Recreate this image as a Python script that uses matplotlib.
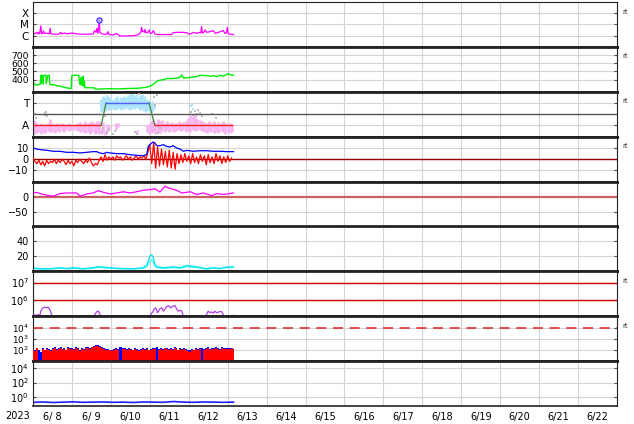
import numpy as np
import matplotlib.pyplot as plt
from matplotlib.ticker import NullLocator

# time axis in days since 2023-06-08 00:00
day_labels = ['6/ 8', '6/ 9', '6/10', '6/11', '6/12', '6/13', '6/14', '6/15',
              '6/16', '6/17', '6/18', '6/19', '6/20', '6/21', '6/22']

# panel 1: flare class (C=0, M=1, X=2)
xray_t = [0.01, 0.05, 0.09, 0.12, 0.14, 0.17, 0.20, 0.22, 0.25, 0.27, 0.29, 0.35, 0.42, 0.44,
          0.46, 0.57, 0.65, 0.72, 0.74, 0.82, 0.86, 0.95, 1.02, 1.08, 1.21, 1.38, 1.55, 1.58,
          1.62, 1.64, 1.67, 1.70, 1.72, 1.76, 1.81, 1.89, 1.93, 1.95, 2.06, 2.15, 2.23, 2.41,
          2.58, 2.66, 2.71, 2.77, 2.79, 2.81, 2.83, 2.86, 2.88, 2.90, 2.94, 2.99, 3.01, 3.05,
          3.09, 3.13, 3.18, 3.35, 3.56, 3.60, 3.69, 3.82, 3.95, 3.99, 4.08, 4.12, 4.20, 4.29,
          4.31, 4.33, 4.35, 4.38, 4.42, 4.46, 4.55, 4.63, 4.68, 4.76, 4.82, 4.89, 4.93, 4.97,
          4.99, 5.01, 5.03, 5.15]
xray_v = [0.16, 0.18, 0.30, 0.16, 0.30, 0.16, 0.87, 0.18, 0.21, 0.42, 0.21, 0.21, 0.18, 0.66,
          0.16, 0.13, 0.13, 0.30, 0.16, 0.24, 0.16, 0.21, 0.24, 0.18, 0.13, 0.13, 0.16, 0.45,
          0.30, 0.66, 0.21, 1.34, 0.30, 0.18, 0.13, 0.13, 0.36, 0.10, 0.07, 0.18, -0.02, -0.02,
          -0.01, 0.05, 0.10, 0.30, 0.75, 0.36, 0.40, 0.30, 0.57, 0.27, 0.27, 0.51, 0.21, 0.21,
          0.45, 0.16, 0.10, 0.10, 0.10, 0.27, 0.30, 0.30, 0.27, 0.13, 0.21, 0.30, 0.21, 0.30,
          0.24, 0.81, 0.24, 0.27, 0.51, 0.30, 0.36, 0.45, 0.21, 0.30, 0.36, 0.45, 0.21, 0.24,
          0.75, 0.24, 0.16, 0.10]
flare_t = [1.70]
flare_v = [1.40]

# panel 2: solar wind speed
vsw_t = [0.01, 0.03, 0.05, 0.08, 0.12, 0.17, 0.19, 0.20, 0.21, 0.22, 0.23, 0.26, 0.27, 0.33,
         0.34, 0.38, 0.42, 0.43, 0.48, 0.52, 0.60, 0.70, 0.80, 0.90, 0.98, 1.00, 1.05, 1.17,
         1.19, 1.21, 1.23, 1.24, 1.26, 1.27, 1.29, 1.30, 1.32, 1.33, 1.35, 1.45, 1.58, 1.60,
         1.80, 2.00, 2.20, 2.40, 2.60, 2.75, 2.90, 3.00, 3.09, 3.18, 3.26, 3.35, 3.43, 3.60,
         3.77, 3.82, 3.86, 3.95, 4.12, 4.20, 4.29, 4.46, 4.55, 4.63, 4.72, 4.80, 4.89, 4.97,
         5.01, 5.06, 5.15]
vsw_v = [375, 350, 335, 338, 332, 345, 345, 452, 350, 452, 452, 345, 452, 452,
         350, 452, 452, 340, 335, 340, 325, 318, 305, 295, 290, 452, 452, 452,
         400, 340, 420, 335, 430, 330, 440, 320, 380, 300, 300, 300, 298, 282,
         286, 288, 285, 290, 292, 296, 305, 318, 340, 380, 392, 398, 412, 412,
         425, 458, 420, 420, 432, 436, 452, 448, 440, 448, 436, 452, 444, 460,
         470, 460, 452]

# panel 3: class A / T
cls_t = [0.0, 1.75, 1.875, 2.98, 3.13, 5.12]
cls_v = [0, 0, 1, 1, 0, 0]
cls_colors = ['#ff2020', '#4c8c4c', '#4f5fff', '#4c8c4c', '#ff2020']

pink_t = [0.02, 0.08, 0.14, 0.20, 0.26, 0.32, 0.38, 0.44, 0.50, 0.56, 0.62, 0.68, 0.74, 0.80,
          0.86, 0.92, 0.98, 1.04, 1.10, 1.16, 1.22, 1.28, 1.34, 1.40, 1.46, 1.52, 1.58, 1.64,
          1.70,
          1.76, 1.80, 1.85, 1.90, 1.95, 2.12, 2.18, 2.66, 2.92, 2.97,
          3.02, 3.08, 3.14, 3.20, 3.26, 3.32, 3.38, 3.44, 3.50, 3.56, 3.62, 3.68, 3.74, 3.80,
          3.86, 3.92, 3.98, 4.04, 4.10, 4.16, 4.22, 4.28, 4.34, 4.40, 4.46, 4.52, 4.58, 4.64,
          4.70, 4.76, 4.82, 4.88, 4.94, 5.00, 5.06, 5.12]
pink_lo = [-0.40, -0.32, -0.30, -0.36, -0.28, -0.33, -0.25, -0.30, -0.27, -0.35, -0.26, -0.30,
           -0.24, -0.28, -0.22, -0.26, -0.20, -0.18, -0.22, -0.26, -0.30, -0.27, -0.33, -0.28,
           -0.36, -0.30, -0.38, -0.34, -0.40,
           -0.38, -0.20, -0.41, -0.30, -0.15, -0.20, -0.05, -0.35, -0.30, -0.38,
           -0.35, -0.30, -0.38, -0.28, -0.32, -0.25, -0.30, -0.22, -0.28, -0.26, -0.30, -0.24,
           -0.20, -0.26, -0.22, -0.28, -0.25, -0.30, -0.20, -0.26, -0.22, -0.18, -0.25, -0.28,
           -0.32, -0.26, -0.30, -0.34, -0.28, -0.32, -0.26, -0.30, -0.36, -0.30, -0.34, -0.30]
pink_hi = [0.25, 0.15, 0.05, 0.10, 0.02, 0.08, 0.12, 0.30, 0.10, 0.05, 0.12, 0.06, 0.10, 0.02,
           0.08, 0.12, 0.04, 0.00, 0.06, 0.10, 0.15, 0.08, 0.18, 0.10, 0.14, 0.20, 0.12, 0.18,
           0.22,
           -0.05, 0.15, -0.20, 0.05, -0.02, 0.10, 0.12, -0.20, 0.00, 0.05,
           0.20, 0.28, 0.15, 0.30, 0.18, 0.25, 0.12, 0.20, 0.10, 0.15, 0.08, 0.12, 0.18, 0.10,
           0.15, 0.22, 0.35, 0.48, 0.40, 0.55, 0.30, 0.25, 0.20, 0.15, 0.10, 0.18, 0.12, 0.20,
           0.08, 0.15, 0.10, 0.18, 0.12, 0.05, 0.10, 0.08]

lblue_t = [1.75, 1.80, 1.85, 1.90, 1.95, 2.00, 2.05, 2.10, 2.15, 2.20, 2.25, 2.30, 2.35, 2.40,
           2.45, 2.50, 2.55, 2.60, 2.65, 2.70, 2.75, 2.80, 2.85, 2.90, 2.95, 3.00, 3.05, 3.10]
lblue_lo = [0.60, 0.70, 0.65, 0.75, 0.70, 0.80, 0.72, 0.68, 0.75, 0.80, 0.70, 0.78, 0.72, 0.82,
            0.75, 0.70, 0.78, 0.72, 0.80, 0.76, 0.70, 0.74, 0.65, 0.60, 0.70, 0.62, 0.58, 0.75]
lblue_hi = [1.20, 1.30, 1.25, 1.35, 1.28, 1.20, 1.15, 1.22, 1.30, 1.18, 1.25, 1.20, 1.32, 1.28,
            1.35, 1.42, 1.45, 1.30, 1.38, 1.25, 1.35, 1.40, 1.30, 1.20, 1.15, 1.05, 1.10, 0.95]
lblue_pt_t = [0.01, 0.02, 4.05, 4.08, 4.10, 2.88, 2.92]
lblue_pt_v = [1.45, 1.40, 0.85, 0.90, 0.75, 1.48, 1.46]

gray_t = [0.30, 0.32, 0.34, 0.36, 1.78, 1.82, 1.86, 1.90, 1.95, 2.05, 2.10, 2.62, 2.68, 2.72,
          3.10, 3.14, 3.18, 3.22, 3.26, 4.05, 4.10, 4.15, 4.20, 4.25, 4.30, 4.35, 4.60, 4.70,
          0.05, 0.08]
gray_v = [0.55, 0.45, 0.62, 0.40, -0.30, -0.10, 0.40, -0.35, -0.20, -0.40, -0.25, -0.30, -0.38,
          1.40, 1.25, 0.90, 1.35, -0.35, -0.10, 0.60, 0.45, 0.65, 0.50, 0.70, 0.55, 0.40, 0.50,
          0.35, 0.50, 0.35]

# panel 4: IMF Bt (blue) and Bz (red)
bt_t = [0.01, 0.09, 0.18, 0.35, 0.52, 0.69, 0.86, 1.03, 1.21, 1.38, 1.55, 1.63, 1.72, 1.81,
        1.89, 1.98, 2.15, 2.32, 2.49, 2.66, 2.83, 2.92, 2.96, 3.00, 3.05, 3.09, 3.13, 3.18,
        3.26, 3.35, 3.43, 3.52, 3.60, 3.69, 3.78, 3.86, 3.95, 4.12, 4.29, 4.46, 4.63, 4.80,
        4.97, 5.15]
bt_v = [9.9, 9.0, 8.5, 7.9, 7.0, 7.0, 6.1, 6.1, 5.5, 6.1, 6.7, 6.7, 5.5, 4.9,
        6.1, 5.5, 4.9, 4.9, 4.0, 3.4, 3.1, 4.0, 11.4, 12.9, 14.4, 15.3, 14.4, 12.0,
        12.0, 12.9, 11.4, 10.8, 12.0, 9.9, 9.0, 7.0, 7.8, 7.0, 7.5, 7.5, 7.0, 7.0,
        6.7, 6.7]
bz_v = [1, -2, -4, -1, -5, -2, -6, -1, -4, -2,
        -3, 0, -4, -1, -3, 0, -2, -5, -1, -4,
        -2, -6, -1, -3, 0, -2, -4, -1, -3, 1,
        -3, -6, -4, -5, -1, 2, -2, 4, -1, 2,
        0, 2, -1, 3, 1, 2, -1, 1, 3, 0,
        2, -1, 1, 3, 0, 2, 1, 3, 0, 6,
        13, -4, 15, -8, 11, -6, 9, -5, 7, -7,
        8, -8, 6, -9, 5, -4, 4, -3, 5, -2,
        3, -4, 5, -3, 2, -4, 4, -2, 3, -5,
        4, -3, 2, -4, 5, -2, 3, -4, 2, -3,
        3, -2, 1]
bz_t = np.linspace(0.0, 5.10, len(bz_v))

# panel 5
p5_t = [0.01, 0.09, 0.26, 0.52, 0.69, 0.86, 1.12, 1.21, 1.38, 1.55, 1.68, 1.81, 1.98, 2.15,
        2.32, 2.49, 2.66, 2.83, 3.01, 3.13, 3.26, 3.39, 3.52, 3.69, 3.82, 4.04, 4.20, 4.38,
        4.59, 4.72, 4.89, 5.15]
p5_v = [12, 14, 7, 1, 10, 12, 12, 1, 9, 12, 20, 14, 9, 12,
        16, 12, 16, 21, 23, 26, 15, 34, 27, 21, 12, 16, 7, 12,
        3, 10, 7, 12]

# panel 6: two cyan series
p6_t = [0.01, 0.18, 0.44, 0.69, 0.86, 1.04, 1.29, 1.55, 1.64, 1.81, 1.98, 2.23, 2.58, 2.83,
        2.92, 3.01, 3.05, 3.09, 3.13, 3.18, 3.35, 3.60, 3.78, 3.95, 4.03, 4.20, 4.46, 4.63,
        4.80, 4.97, 5.15]
p6_a = [4.9, 3.6, 3.6, 4.9, 4.0, 4.9, 3.6, 4.9, 6.2, 5.8, 4.9, 4.0, 3.6, 4.9,
        8.0, 21.3, 22.2, 18.2, 9.3, 6.2, 4.9, 6.2, 4.9, 8.0, 7.1, 6.2, 3.6, 4.9,
        4.0, 5.8, 6.2]
p6_b = [4.0, 3.0, 3.2, 4.2, 3.5, 4.0, 3.2, 4.2, 5.2, 5.0, 4.2, 3.5, 3.2, 4.0,
        6.5, 14.0, 15.5, 12.0, 7.5, 5.0, 4.0, 5.0, 4.2, 6.5, 6.0, 5.2, 3.2, 4.2,
        3.5, 5.0, 5.5]

# panel 7: log, purple
p7_t = [0.01, 0.09, 0.18, 0.20, 0.25, 0.31, 0.35, 0.39, 0.44, 0.48, 0.52, 1.50, 1.63, 1.68,
        1.72, 1.76, 2.90, 3.09, 3.11, 3.15, 3.20, 3.25, 3.31, 3.35, 3.39, 3.43, 3.48, 3.54,
        3.59, 3.65, 3.69, 3.73, 3.78, 3.82, 3.85, 3.88, 4.40, 4.46, 4.50, 4.55, 4.59, 4.63,
        4.67, 4.72, 4.80, 4.85, 4.89, 4.93, 5.10, 5.15]
p7_v = [1.2e5, 1.25e5, 1.3e5, 2.1e5, 3.3e5, 3.6e5, 3.3e5, 3.6e5, 2.4e5, 1.3e5, 6e4, 6e4, 1.9e5,
        2.1e5, 1.4e5, 6e4, 6e4, 2.1e5, 2.8e5, 3.3e5, 1.7e5, 2.8e5, 3.3e5, 2.1e5, 2.8e5, 3.8e5,
        4.4e5, 3.3e5, 4.1e5, 4.4e5, 2.8e5, 2.1e5, 2.4e5, 2.1e5, 1.3e5, 6e4, 6e4, 1.4e5, 2.1e5,
        1.7e5, 1.9e5, 1.6e5, 2.1e5, 1.7e5, 2.0e5, 1.9e5, 1.3e5, 6e4, 6e4, 1.2e5]
p7_levels = [1e6, 1e7]

# panel 8: log, blue and red fills
p8_blue = [130, 90, 160, 110, 70, 140, 100, 150, 120, 90,
           140, 170, 120, 160, 190, 130, 150, 110, 170, 140,
           160, 120, 180, 140, 100, 150, 130, 170, 190, 160,
           200, 230, 300, 260, 220, 180, 150, 130, 120, 110,
           100, 130, 150, 120, 170, 190, 160, 140, 120, 150,
           130, 110, 140, 120, 100, 130, 150, 120, 140, 110,
           130, 160, 140, 170, 120, 150, 130, 160, 140, 120,
           150, 130, 170, 140, 110, 160, 130, 150, 120, 100,
           90, 130, 110, 150, 120, 140, 160, 130, 150, 170,
           130, 160, 140, 180, 150, 130, 170, 140, 160, 150,
           140, 160, 130]
p8_red = [110, 80, 140, 12, 12, 120, 90, 130, 100, 80,
          120, 140, 100, 130, 150, 110, 130, 90, 140, 120,
          130, 100, 150, 120, 80, 130, 110, 140, 160, 130,
          170, 190, 220, 210, 180, 150, 120, 110, 100, 90,
          80, 110, 120, 100, 12, 12, 130, 120, 100, 130,
          110, 90, 120, 100, 80, 110, 130, 100, 120, 90,
          110, 130, 120, 12, 100, 130, 110, 140, 120, 100,
          130, 110, 140, 120, 90, 130, 110, 130, 100, 80,
          70, 110, 90, 130, 100, 120, 12, 110, 130, 140,
          110, 130, 120, 150, 130, 110, 140, 120, 130, 130,
          120, 140, 110]
p8_t = np.linspace(0.0, 5.15, len(p8_blue))
p8_level = 1e4

# panel 9: log, blue
p9_v = [0.17, 0.19, 0.16, 0.18, 0.20, 0.17, 0.18, 0.19, 0.17, 0.18, 0.16, 0.19, 0.18,
        0.17, 0.22, 0.18, 0.17, 0.19, 0.18, 0.17, 0.18]
p9_t = np.linspace(0.0, 5.15, len(p9_v))

# ---------------------------------------------------------------
W, H = 634, 424
fig = plt.figure(figsize=(W / 100, H / 100), dpi=100)
plt.rcParams['font.family'] = 'DejaVu Sans'

left, right = 33, 617
top0, ph = 2, 44.9
grid_c = '#d4d4d4'
axes = []
for i in range(9):
    top = top0 + i * ph
    ax = fig.add_axes([left / W, 1 - (top + ph) / H, (right - left) / W, ph / H])
    ax.set_xlim(0, 15)
    ax.set_xticks(range(16))
    ax.xaxis.set_minor_locator(NullLocator())
    ax.tick_params(axis='x', which='both', length=0, labelbottom=False)
    ax.tick_params(axis='y', which='major', direction='in', length=2.5, right=True,
                   labelsize=7, pad=3, color='#444444')
    ax.tick_params(axis='y', which='minor', length=0)
    ax.grid(True, color=grid_c, lw=0.8, zorder=0)
    ax.set_axisbelow(True)
    for s in ['left', 'right']:
        ax.spines[s].set_linewidth(0.8)
        ax.spines[s].set_color('#222222')
    for s in ['top', 'bottom']:
        ax.spines[s].set_linewidth(2.0)
        ax.spines[s].set_color('#222222')
    axes.append(ax)
axes[0].spines['top'].set_linewidth(0.8)
axes[-1].spines['bottom'].set_linewidth(1.2)

# 1
ax = axes[0]
ax.plot(xray_t, xray_v, color='#ff00ff', lw=0.9)
ax.scatter(flare_t, flare_v, s=14, facecolor='#c8a8ff', edgecolor='#4040ff', lw=0.9, zorder=5)
ax.set_ylim(-1, 3)
ax.set_yticks([0, 1, 2])
ax.set_yticklabels(['C', 'M', 'X'], fontsize=7.5)

# 2
ax = axes[1]
ax.plot(vsw_t, vsw_v, color='#00ee00', lw=1.0)
ax.set_ylim(250, 800)
ax.set_yticks([400, 500, 600, 700])
ax.tick_params(axis='y', labelsize=6.6)

# 3
ax = axes[2]
ax.vlines(pink_t, pink_lo, pink_hi, color='#f7b4f2', lw=1.9, zorder=2)
ax.vlines(lblue_t, lblue_lo, lblue_hi, color='#aee4fb', lw=2.0, zorder=2)
ax.scatter(lblue_pt_t, lblue_pt_v, s=3, marker='s', color='#aee4fb', lw=0, zorder=2)
ax.scatter(gray_t, gray_v, s=3, marker='s', color='#bdbdbd', lw=0, zorder=3)
ax.axhline(0.5, color='#555555', lw=1.0, zorder=3)
for k in range(len(cls_t) - 1):
    ax.plot(cls_t[k:k + 2], cls_v[k:k + 2], color=cls_colors[k], lw=1.0, zorder=4)
ax.set_ylim(-0.5, 1.5)
ax.set_yticks([0, 1])
ax.set_yticklabels(['A', 'T'], fontsize=7.5)
ax.set_yticks([0.5], minor=True)

# 4
ax = axes[3]
ax.axhline(0, color='#990000', lw=1.0, zorder=2)
ax.plot(bz_t, bz_v, color='#ff0000', lw=0.9, zorder=3)
ax.plot(bt_t, bt_v, color='#0000ff', lw=0.9, zorder=4)
ax.set_ylim(-20, 20)
ax.set_yticks([-10, 0, 10])

# 5
ax = axes[4]
ax.axhline(0, color='#cc6060', lw=1.6, zorder=2)
ax.plot(p5_t, p5_v, color='#ff00ff', lw=0.9, zorder=3)
ax.set_ylim(-100, 50)
ax.set_yticks([-50, 0])

# 6
ax = axes[5]
ax.plot(p6_t, p6_b, color='#40ffff', lw=0.9)
ax.plot(p6_t, p6_a, color='#00e0ee', lw=0.9)
ax.set_ylim(0, 60)
ax.set_yticks([20, 40])

# 7
ax = axes[6]
ax.set_yscale('log')
for lv in p7_levels:
    ax.axhline(lv, color='#cc0000', lw=1.0, zorder=2)
ax.plot(p7_t, p7_v, color='#b040e0', lw=0.9, zorder=3)
ax.set_ylim(1.05e5, 4.5e7)
ax.set_yticks(p7_levels)
ax.yaxis.set_minor_locator(NullLocator())

# 8
ax = axes[7]
ax.set_yscale('log')
ax.fill_between(p8_t, 10, p8_blue, step='mid', color='#0000ff', lw=0, zorder=2)
ax.fill_between(p8_t, 10, p8_red, step='mid', color='#ff0000', lw=0, zorder=3)
ax.axhline(p8_level, color='#dd3333', lw=1.2, dashes=(6, 4), zorder=4)
ax.set_ylim(10, 1e5)
ax.set_yticks([1e2, 1e3, 1e4])
ax.yaxis.set_minor_locator(NullLocator())
ax.tick_params(axis='y', labelsize=6.4)

# 9
ax = axes[8]
ax.set_yscale('log')
ax.plot(p9_t, p9_v, color='#2020ff', lw=1.2)
ax.set_ylim(0.05, 1e5)
ax.set_yticks([1e0, 1e2, 1e4])
ax.yaxis.set_minor_locator(NullLocator())
ax.set_xticks(np.arange(15) + 0.5, minor=True)
ax.set_xticklabels(day_labels, minor=True)
ax.tick_params(axis='x', which='minor', length=0, labelbottom=True, labelsize=7, pad=4)

fig.text(18 / W, 1 - 416 / H, '2023', fontsize=7, ha='center', va='center')

for i in [0, 1, 2, 3, 6, 7]:
    axes[i].text(1.01, 1 - 9.5 / ph, 'rt', transform=axes[i].transAxes,
                 fontsize=5, color='#333333', va='center', ha='left')

plt.savefig('out.png', dpi=100)
plt.close()
